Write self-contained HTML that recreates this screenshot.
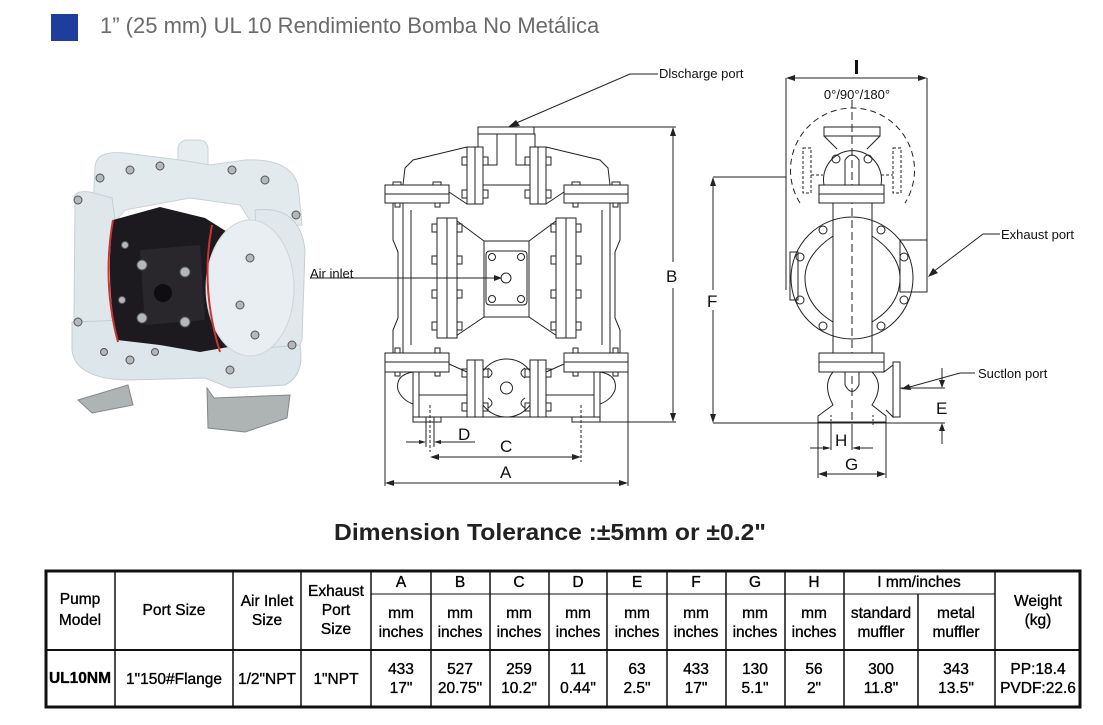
<!DOCTYPE html>
<html><head><meta charset="utf-8"><style>
html,body{margin:0;padding:0;background:#fff;width:1103px;height:725px;overflow:hidden}
svg{display:block}
.t{font-family:"Liberation Sans",sans-serif}
.n{font-family:"Liberation Sans Narrow","Liberation Sans",sans-serif;font-size:15.5px;fill:#000;text-anchor:middle}
</style></head><body>
<svg width="1103" height="725" viewBox="0 0 1103 725" xmlns="http://www.w3.org/2000/svg">
<rect x="51" y="14" width="27" height="27" fill="#1f3d9c"/>
<text x="100" y="33" class="t" font-size="22" fill="#6a6a6a">1”  (25 mm) UL 10 Rendimiento Bomba No Metálica</text>

<!-- photo -->
<g>
<path d="M207,388 L214,398 L290,395 L287,418 L245,432 L208,428 Z" fill="#aeb3b3" stroke="#80878a"/>
<path d="M78,400 L128,385 L133,405 L92,413 Z" fill="#aeb3b3" stroke="#80878a"/>
<rect x="178" y="140" width="30" height="36" rx="9" fill="#e6edf0" stroke="#c9d3d8"/>
<path d="M95,168 Q95,150 125,153 L180,160 L210,165 L245,160 Q290,158 298,185 L302,225 L255,228 L240,205 L190,198 L125,210 L110,228 L92,225 Z" fill="#e3eaee" stroke="#c8d2d6"/>
<path d="M75,200 Q72,190 90,192 L112,198 L118,240 L110,330 L115,350 L80,358 Q72,350 74,320 Z" fill="#dfe7eb" stroke="#c5cfd4"/>
<path d="M255,210 Q300,205 305,250 L302,340 Q295,360 262,355 Z" fill="#e0e8ec" stroke="#c5cfd4"/>
<path d="M72,322 L125,320 L160,345 L210,340 L265,348 L300,345 Q305,375 285,385 L230,388 L205,378 L125,380 Q75,378 72,350 Z" fill="#dde6ea" stroke="#c3cdd2"/>
<path d="M113,220 L160,207 L205,218 L240,240 L240,345 L200,352 L160,345 L117,340 Q105,280 113,220 Z" fill="#1c1a1e"/>
<path d="M113,220 Q102,282 118,342" stroke="#c33" stroke-width="2" fill="none"/>
<ellipse cx="250" cy="288" rx="44" ry="68" fill="#e8eef1" stroke="#cdd6da"/>
<path d="M212,225 Q200,288 220,352" stroke="#c33" stroke-width="2" fill="none"/>
<path d="M140,250 L200,245 L205,320 L145,325 Z" fill="#29272b"/>
<g fill="#b4b8ba" stroke="#555" stroke-width="1">
<circle cx="142" cy="265" r="5"/><circle cx="185" cy="272" r="5"/><circle cx="142" cy="318" r="5"/><circle cx="185" cy="322" r="5"/>
<circle cx="100" cy="178" r="4"/><circle cx="130" cy="170" r="4"/><circle cx="160" cy="166" r="4"/><circle cx="232" cy="170" r="4"/><circle cx="265" cy="180" r="4"/>
<circle cx="78" cy="200" r="4"/><circle cx="78" cy="322" r="4"/><circle cx="296" cy="215" r="4"/><circle cx="292" cy="345" r="4"/>
<circle cx="250" cy="258" r="4"/><circle cx="240" cy="305" r="4"/><circle cx="255" cy="335" r="4"/><circle cx="130" cy="360" r="4"/><circle cx="230" cy="370" r="4"/>
<circle cx="125" cy="245" r="3.5"/><circle cx="122" cy="300" r="3.5"/><circle cx="104" cy="352" r="3.5"/><circle cx="155" cy="352" r="3.5"/>
</g>
<circle cx="163" cy="293" r="9" fill="#0e0d10"/>
</g>

<!-- front view -->
<g fill="none" stroke="#222" stroke-width="1">
<circle cx="506.5" cy="388" r="29" fill="#fff"/>
<g id="half">
<rect x="478" y="134" width="19" height="31"/>
<line x1="483" y1="185" x2="506.5" y2="185"/>
<path d="M467,147 L413,160 L405,168 L403,185"/>
<path d="M449,192 L467,204"/>
<path d="M393,203 L393,240 L398,252 L398,318 L393,330 L393,353"/>
<line x1="411" y1="210" x2="411" y2="345"/>
<line x1="403" y1="203" x2="403" y2="353"/>
<line x1="437" y1="218" x2="453" y2="218"/>
<path d="M453,218 L484,241 L506.5,241"/>
<path d="M453,338 L484,317 L506.5,317"/>
<line x1="437" y1="338" x2="453" y2="338"/>
<line x1="484" y1="241" x2="484" y2="317"/>
<rect x="467" y="147" width="16" height="57" fill="#fff"/><line x1="475" y1="147" x2="475" y2="204"/>
<rect x="462" y="157" width="5" height="8"/><rect x="483" y="157" width="5" height="8"/>
<rect x="462" y="190" width="5" height="8"/><rect x="483" y="190" width="5" height="8"/>
<rect x="385" y="185" width="64" height="18" fill="#fff"/><line x1="385" y1="194" x2="449" y2="194"/>
<rect x="393" y="182" width="8" height="3"/><rect x="433" y="182" width="8" height="3"/>
<rect x="395" y="203" width="5" height="4"/><rect x="435" y="203" width="5" height="4"/>
<rect x="437" y="218" width="20" height="120" fill="#fff"/><line x1="447" y1="218" x2="447" y2="338"/>
<rect x="432" y="224" width="5" height="8"/><rect x="432" y="256" width="5" height="8"/><rect x="432" y="290" width="5" height="8"/><rect x="432" y="322" width="5" height="8"/>
<rect x="457" y="224" width="5" height="8"/><rect x="457" y="256" width="5" height="8"/><rect x="457" y="290" width="5" height="8"/><rect x="457" y="322" width="5" height="8"/>
<path d="M506.5,251 L490,251 Q486,251 486,255 L486,301 Q486,305 490,305 L506.5,305"/>
<circle cx="492" cy="257" r="3.5"/><circle cx="492" cy="299" r="3.5"/>
<rect x="435" y="348" width="5" height="5"/><rect x="395" y="348" width="5" height="5"/>
<rect x="385" y="353" width="64" height="19" fill="#fff"/><line x1="385" y1="362" x2="449" y2="362"/>
<rect x="395" y="372" width="5" height="4"/><rect x="435" y="372" width="5" height="4"/>
<path d="M449,364 L467,372"/>
<path d="M413,372 Q395,375 398,390 Q402,400 413,404"/>
<rect x="413" y="372" width="6" height="45"/>
<line x1="419" y1="395" x2="467" y2="395"/>
<line x1="419" y1="417" x2="506.5" y2="417"/>
<rect x="413" y="417" width="28" height="5"/>
<rect x="467" y="360" width="16" height="57" fill="#fff"/><line x1="475" y1="360" x2="475" y2="417"/>
<rect x="462" y="369" width="5" height="8"/><rect x="483" y="369" width="5" height="8"/>
<rect x="462" y="403" width="5" height="8"/><rect x="483" y="403" width="5" height="8"/>
<path d="M488,368 Q496,373 488,378"/><path d="M488,398 Q496,403 488,408"/>
</g>
<use href="#half" transform="translate(1013,0) scale(-1,1)"/>
<rect x="478" y="127" width="56" height="7" fill="#fff"/>
<circle cx="506.5" cy="388" r="6"/>
<circle cx="506" cy="278" r="5"/>
<line x1="430" y1="405" x2="430" y2="452" stroke-dasharray="3,2"/>
<line x1="581" y1="405" x2="581" y2="462" stroke-dasharray="3,2"/>
<line x1="426" y1="417" x2="426" y2="447"/><line x1="434" y1="417" x2="434" y2="447"/>
<line x1="534" y1="127" x2="676" y2="127"/><line x1="599" y1="422" x2="676" y2="422"/>
<line x1="673" y1="135" x2="673" y2="262"/><line x1="673" y1="288" x2="673" y2="414"/>
<line x1="385" y1="372" x2="385" y2="486"/><line x1="628" y1="372" x2="628" y2="486"/>
<line x1="393" y1="483" x2="620" y2="483"/>
<line x1="438" y1="457" x2="573" y2="457"/>
<line x1="406" y1="442" x2="420" y2="442"/><line x1="440" y1="442" x2="475" y2="442"/>
<line x1="310" y1="278" x2="498" y2="278"/>
<path d="M658,74 L630,74 L514,124"/>
</g>
<g fill="#222">
<path d="M673,127 l-3,9 h6z"/><path d="M673,422 l-3,-9 h6z"/>
<path d="M385,483 l9,-3 v6z"/><path d="M628,483 l-9,-3 v6z"/>
<path d="M430,457 l9,-3 v6z"/><path d="M581,457 l-9,-3 v6z"/>
<path d="M426,442 l-7,-2 v4z"/><path d="M434,442 l7,-2 v4z"/>
<path d="M502,278 l-8,-3 v6z"/>
<path d="M508,127 l8,-7 l4,6z"/>
</g>
<g class="t" fill="#111">
<text x="659" y="78" font-size="13">Dlscharge port</text>
<text x="310" y="278" font-size="13">Air inlet</text>
<text x="666" y="282" font-size="17">B</text>
<text x="458" y="440" font-size="17">D</text>
<text x="500" y="452" font-size="17">C</text>
<text x="500" y="478" font-size="17">A</text>
</g>

<!-- side view -->
<g fill="none" stroke="#222" stroke-width="1">
<path d="M800,203 A62,62 0 1 1 905,203" stroke-dasharray="6,4"/>
<line x1="852" y1="100" x2="852" y2="425" stroke-dasharray="8,4"/>
<rect x="803" y="148" width="8" height="45" stroke-dasharray="3,2"/><rect x="893" y="148" width="8" height="45" stroke-dasharray="3,2"/>
<line x1="811" y1="175" x2="823" y2="175" stroke-dasharray="3,2"/><line x1="881" y1="175" x2="893" y2="175" stroke-dasharray="3,2"/>
<rect x="824" y="127" width="56" height="9"/>
<path d="M824,136 L837,149 M880,136 L867,149"/>
<path d="M824,185 A29,29 0 1 1 881,185"/>
<path d="M845,185 L845,160 Q852,150 859,160 L859,185"/>
<circle cx="836" cy="159" r="4"/><circle cx="868" cy="159" r="4"/>
<rect x="819" y="185" width="65" height="18" fill="#fff"/><line x1="819" y1="194" x2="884" y2="194"/>
<line x1="833" y1="203" x2="833" y2="353"/><line x1="872" y1="203" x2="872" y2="353"/>
<circle cx="852" cy="278" r="61"/>
<path d="M833,236 Q805,255 805,278 Q805,305 833,322"/>
<path d="M872,236 Q900,255 900,278 Q900,305 872,322"/>
<circle cx="823" cy="230" r="4"/><circle cx="881" cy="230" r="4"/><circle cx="800" cy="257" r="4"/><circle cx="904" cy="257" r="4"/>
<circle cx="800" cy="300" r="4"/><circle cx="904" cy="300" r="4"/><circle cx="823" cy="326" r="4"/><circle cx="881" cy="326" r="4"/>
<rect x="900" y="240" width="27" height="52"/><rect x="790" y="252" width="8" height="48"/>
<rect x="819" y="353" width="65" height="19" fill="#fff"/><line x1="819" y1="362" x2="884" y2="362"/>
<path d="M833,372 Q822,385 833,405 L818,416 L818,422 L886,422 L886,416 L872,405 Q885,385 872,372"/>
<path d="M845,372 L845,385 Q852,398 859,385 L859,372"/>
<path d="M884,372 L893,365 L893,417 L886,410"/>
<rect x="893" y="362" width="7" height="55"/>
<line x1="831" y1="415" x2="831" y2="425" stroke-dasharray="2,2"/><line x1="873" y1="415" x2="873" y2="425" stroke-dasharray="2,2"/>
<line x1="786" y1="78" x2="786" y2="290"/>
<line x1="927" y1="78" x2="927" y2="278"/>
<line x1="793" y1="78" x2="920" y2="78"/>
<line x1="713" y1="177" x2="786" y2="177"/>
<line x1="713" y1="185" x2="713" y2="290"/><line x1="713" y1="310" x2="713" y2="415"/>
<line x1="713" y1="423" x2="945" y2="423"/>
<line x1="900" y1="388" x2="945" y2="388"/>
<line x1="942" y1="368" x2="942" y2="380"/><line x1="942" y1="431" x2="942" y2="444"/>
<line x1="818" y1="422" x2="818" y2="478"/><line x1="886" y1="422" x2="886" y2="478"/>
<line x1="831" y1="422" x2="831" y2="450"/><line x1="852" y1="425" x2="852" y2="450"/>
<line x1="826" y1="474" x2="878" y2="474"/>
<line x1="810" y1="448" x2="823" y2="448"/><line x1="860" y1="448" x2="873" y2="448"/>
<path d="M1000,234 L983,234 L933,272"/>
<path d="M975,373 L960,373 L906,388"/>
</g>
<g fill="#222">
<path d="M786,78 l9,-3 v6z"/><path d="M927,78 l-9,-3 v6z"/>
<path d="M713,177 l-3,9 h6z"/><path d="M713,423 l-3,-9 h6z"/>
<path d="M942,388 l-3,-8 h6z"/><path d="M942,423 l-3,8 h6z"/>
<path d="M818,474 l9,-3 v6z"/><path d="M886,474 l-9,-3 v6z"/>
<path d="M831,448 l-8,-2 v4z"/><path d="M852,448 l8,-2 v4z"/>
<path d="M928,277 l5,-9 l5,5z"/>
<path d="M901,389 l8,-5 l2,6z"/>
</g>
<rect x="855" y="60" width="3" height="14" fill="#111"/>
<g class="t" fill="#111">
<text x="857" y="99" font-size="13" text-anchor="middle">0°/90°/180°</text>
<text x="707" y="307" font-size="17">F</text>
<text x="936" y="414" font-size="17">E</text>
<text x="835" y="446" font-size="17">H</text>
<text x="845" y="470" font-size="17">G</text>
<text x="1001" y="239" font-size="13">Exhaust port</text>
<text x="978" y="378" font-size="13">Suctlon port</text>
</g>

<text x="550" y="540" class="t" font-size="23" font-weight="bold" fill="#222" text-anchor="middle" textLength="432" lengthAdjust="spacingAndGlyphs">Dimension Tolerance :±5mm or ±0.2"</text>

<!-- table -->
<g stroke="#111" fill="none">
<rect x="46" y="571" width="1034" height="136" stroke-width="3"/>
<line x1="46" y1="650" x2="1080" y2="650" stroke-width="2"/>
<line x1="371" y1="594" x2="995" y2="594"/>
<g stroke-width="1.5">
<line x1="115" y1="571" x2="115" y2="707"/><line x1="233" y1="571" x2="233" y2="707"/><line x1="301" y1="571" x2="301" y2="707"/>
<line x1="371" y1="571" x2="371" y2="707"/><line x1="431" y1="571" x2="431" y2="707"/><line x1="490" y1="571" x2="490" y2="707"/>
<line x1="549" y1="571" x2="549" y2="707"/><line x1="607" y1="571" x2="607" y2="707"/><line x1="667" y1="571" x2="667" y2="707"/>
<line x1="726" y1="571" x2="726" y2="707"/><line x1="785" y1="571" x2="785" y2="707"/><line x1="844" y1="571" x2="844" y2="707"/>
<line x1="918" y1="594" x2="918" y2="707"/><line x1="995" y1="571" x2="995" y2="707"/>
</g>
</g>
<g class="n" stroke="#000" stroke-width="0.35">
<text x="80" y="604">Pump</text><text x="80" y="625">Model</text>
<text x="174" y="615">Port Size</text>
<text x="267" y="606">Air Inlet</text><text x="267" y="625">Size</text>
<text x="336" y="596">Exhaust</text><text x="336" y="615">Port</text><text x="336" y="634">Size</text>
<text x="401" y="587">A</text><text x="460" y="587">B</text><text x="519" y="587">C</text><text x="578" y="587">D</text>
<text x="637" y="587">E</text><text x="696" y="587">F</text><text x="755" y="587">G</text><text x="814" y="587">H</text>
<text x="919" y="587">I  mm/inches</text>
<text x="1038" y="606">Weight</text><text x="1038" y="625">(kg)</text>
<text x="401" y="618">mm</text><text x="401" y="637">inches</text>
<text x="460" y="618">mm</text><text x="460" y="637">inches</text>
<text x="519" y="618">mm</text><text x="519" y="637">inches</text>
<text x="578" y="618">mm</text><text x="578" y="637">inches</text>
<text x="637" y="618">mm</text><text x="637" y="637">inches</text>
<text x="696" y="618">mm</text><text x="696" y="637">inches</text>
<text x="755" y="618">mm</text><text x="755" y="637">inches</text>
<text x="814" y="618">mm</text><text x="814" y="637">inches</text>
<text x="881" y="618">standard</text><text x="881" y="637">muffler</text>
<text x="956" y="618">metal</text><text x="956" y="637">muffler</text>
<text x="80" y="683" font-weight="bold">UL10NM</text>
<text x="174" y="684">1"150#Flange</text>
<text x="267" y="684">1/2"NPT</text>
<text x="336" y="684">1"NPT</text>
<text x="401" y="674">433</text><text x="401" y="693">17"</text>
<text x="460" y="674">527</text><text x="460" y="693">20.75"</text>
<text x="519" y="674">259</text><text x="519" y="693">10.2"</text>
<text x="578" y="674">11</text><text x="578" y="693">0.44"</text>
<text x="637" y="674">63</text><text x="637" y="693">2.5"</text>
<text x="696" y="674">433</text><text x="696" y="693">17"</text>
<text x="755" y="674">130</text><text x="755" y="693">5.1"</text>
<text x="814" y="674">56</text><text x="814" y="693">2"</text>
<text x="881" y="674">300</text><text x="881" y="693">11.8"</text>
<text x="956" y="674">343</text><text x="956" y="693">13.5"</text>
<text x="1038" y="674">PP:18.4</text><text x="1038" y="693">PVDF:22.6</text>
</g>
</svg>
</body></html>
